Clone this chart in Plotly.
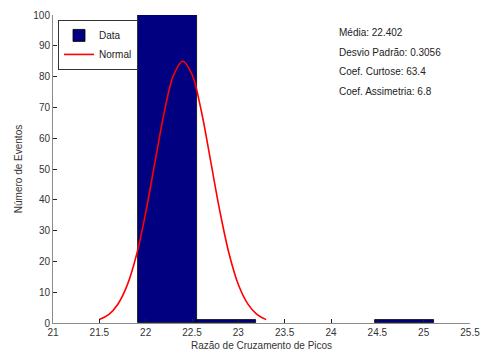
import plotly.graph_objects as go

# Histogram bins (edges) and counts
bin_left = [21.915, 22.555, 24.475]
bin_right = [22.555, 23.195, 25.115]
counts = [100, 1, 1]

# Fitted normal curve
curve_x = [21.5, 21.6, 21.7, 21.8, 21.9, 22.0, 22.1, 22.2, 22.3, 22.4,
           22.5, 22.6, 22.7, 22.8, 22.9, 23.0, 23.1, 23.2, 23.3]
curve_y = [1.1, 2.7, 6.1, 12.2, 22.0, 35.8, 52.2, 68.3, 80.4, 85.0,
           80.7, 68.9, 52.8, 36.4, 22.5, 12.5, 6.3, 2.8, 1.1]

stats_text = ["Média: 22.402", "Desvio Padrão: 0.3056",
              "Coef. Curtose: 63.4", "Coef. Assimetria: 6.8"]

x_ticks = [21, 21.5, 22, 22.5, 23, 23.5, 24, 24.5, 25, 25.5]
y_ticks = [0, 10, 20, 30, 40, 50, 60, 70, 80, 90, 100]

centers = [(a + b) / 2 for a, b in zip(bin_left, bin_right)]
widths = [b - a for a, b in zip(bin_left, bin_right)]

fig = go.Figure()
fig.add_trace(go.Bar(
    x=centers, y=counts, width=widths, name="Data",
    marker=dict(color="#000080", line=dict(color="#000000", width=0.8)),
))
fig.add_trace(go.Scatter(
    x=curve_x, y=curve_y, mode="lines", name="Normal",
    line=dict(color="#ff0000", width=1.6, shape="spline"),
))

for i, t in enumerate(stats_text):
    fig.add_annotation(
        x=0.682, xref="paper", y=0.943 - i * 0.064, yref="paper",
        text=t, showarrow=False, xanchor="left", yanchor="middle",
        font=dict(size=10, color="#222222"),
    )

axis_common = dict(
    showgrid=False, zeroline=False, showline=True, linecolor="#8c8c8c",
    linewidth=1, ticks="inside", ticklen=4, tickcolor="#222222",
    tickfont=dict(size=10, color="#333333"), automargin=False,
    ticklabeloverflow="allow",
)

fig.update_layout(
    width=483, height=351,
    margin=dict(l=53, r=13, t=15, b=28, autoexpand=False),
    paper_bgcolor="white", plot_bgcolor="white",
    font=dict(family="Liberation Sans, Arial, sans-serif", size=10, color="#333333"),
    showlegend=True,
    legend=dict(x=0.012, y=0.984, xanchor="left", yanchor="top",
                bgcolor="white", bordercolor="#333333", borderwidth=1,
                font=dict(size=10, color="#222222"),
                tracegroupgap=0, itemwidth=30),
    bargap=0,
    xaxis=dict(range=[21, 25.5], tickvals=x_ticks,
               ticktext=[f"{v:g}" for v in x_ticks],
               title=dict(text="Razão de Cruzamento de Picos", standoff=4,
                          font=dict(size=10, color="#333333")),
               **axis_common),
    yaxis=dict(range=[0, 100], tickvals=y_ticks,
               title=dict(text="Número de Eventos", standoff=8,
                          font=dict(size=10, color="#333333")),
               **axis_common),
)

fig.write_html(
    "out.html",
    config={"displayModeBar": False},
    post_script="document.body.style.margin='0';document.body.style.overflow='hidden';",
)
